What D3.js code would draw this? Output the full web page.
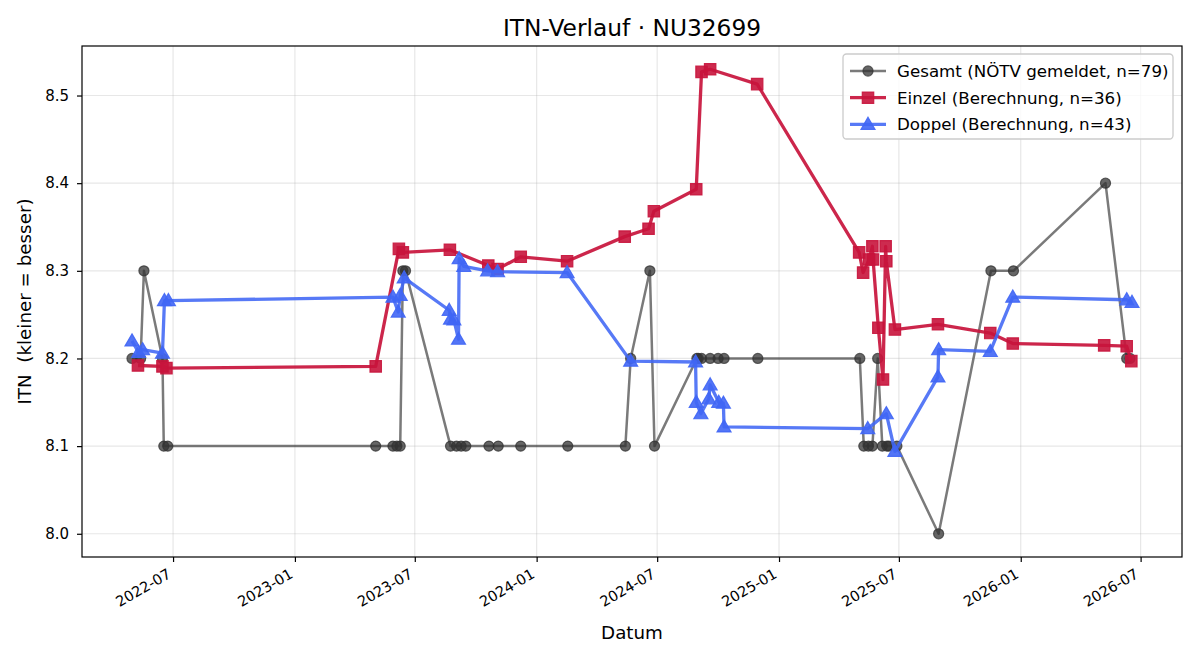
<!DOCTYPE html>
<html>
<head>
<meta charset="utf-8">
<script src="https://cdn.jsdelivr.net/npm/d3@7/dist/d3.min.js"></script>
<style>
  html, body { margin: 0; padding: 0; background: #fff; }
  svg { display: block; font-family: "DejaVu Sans", sans-serif; }
</style>
</head>
<body>
<svg id="chart" width="1200" height="660"></svg>
<script>
// ---------------- DATA ----------------
const title = "ITN-Verlauf · NU32699";
const xLabel = "Datum";
const yLabel = "ITN  (kleiner = besser)";

const gesamtDates = [
  "2022-04-30","2022-05-13","2022-05-18","2022-06-15","2022-06-17","2022-06-23",
  "2023-05-03","2023-05-29","2023-06-04","2023-06-09","2023-06-13","2023-06-17",
  "2023-08-24","2023-09-02","2023-09-09","2023-09-16","2023-10-21","2023-11-04",
  "2023-12-08","2024-02-17","2024-05-14","2024-05-22","2024-06-20","2024-06-27",
  "2024-08-30","2024-09-01","2024-09-06","2024-09-19","2024-10-01","2024-10-10",
  "2024-11-30","2025-05-03","2025-05-09","2025-05-16","2025-05-22","2025-05-30",
  "2025-06-06","2025-06-13","2025-06-16","2025-06-28","2025-08-30","2025-11-17",
  "2025-12-21","2026-05-09","2026-06-10","2026-06-15"
];
const gesamtValues = [
  8.2, 8.2, 8.3, 8.2, 8.1, 8.1,
  8.1, 8.1, 8.1, 8.1, 8.3, 8.3,
  8.1, 8.1, 8.1, 8.1, 8.1, 8.1,
  8.1, 8.1, 8.1, 8.2, 8.3, 8.1,
  8.2, 8.2, 8.2, 8.2, 8.2, 8.2,
  8.2, 8.2, 8.1, 8.1, 8.1, 8.2,
  8.1, 8.1, 8.1, 8.1, 8.0, 8.3,
  8.3, 8.4, 8.2, 8.2
];

const einzelDates = [
  "2022-05-09","2022-06-15","2022-06-21","2023-05-03","2023-06-07","2023-06-13",
  "2023-08-23","2023-10-20","2023-11-03","2023-12-08","2024-02-16","2024-05-13",
  "2024-06-18","2024-06-26","2024-08-29","2024-09-06","2024-09-19","2024-11-29",
  "2025-05-02","2025-05-08","2025-05-17","2025-05-22","2025-05-23","2025-05-31",
  "2025-06-07","2025-06-11","2025-06-12","2025-06-25","2025-08-29","2025-11-16",
  "2025-12-20","2026-05-07","2026-06-10","2026-06-17"
];
const einzelValues = [
  8.192, 8.191, 8.189, 8.191, 8.325, 8.321,
  8.324, 8.306, 8.302, 8.316, 8.311, 8.339,
  8.348, 8.368, 8.393, 8.527, 8.530, 8.513,
  8.321, 8.298, 8.313, 8.328, 8.313, 8.235,
  8.176, 8.328, 8.311, 8.233, 8.239, 8.229,
  8.217, 8.215, 8.214, 8.197
];

const doppelDates = [
  "2022-04-30","2022-05-10","2022-05-16","2022-06-15","2022-06-18","2022-06-24",
  "2023-05-29","2023-06-06","2023-06-09","2023-06-15","2023-08-22","2023-08-24",
  "2023-08-29","2023-09-05","2023-09-06","2023-09-13","2023-10-19","2023-11-03",
  "2024-02-16","2024-05-22","2024-08-28","2024-08-29","2024-09-05","2024-09-17",
  "2024-09-19","2024-10-02","2024-10-09","2024-10-10","2025-05-15","2025-06-12",
  "2025-06-25","2025-08-29","2025-08-30","2025-11-16","2025-12-20","2026-06-10",
  "2026-06-18"
];
const doppelValues = [
  8.220, 8.207, 8.210, 8.206, 8.266, 8.266,
  8.270, 8.253, 8.272, 8.292, 8.255, 8.245,
  8.244, 8.222, 8.314, 8.305, 8.300, 8.299,
  8.298, 8.197, 8.196, 8.150, 8.137, 8.154,
  8.170, 8.150, 8.149, 8.122, 8.120, 8.137,
  8.094, 8.179, 8.210, 8.208, 8.270, 8.267,
  8.264
];

const seriesNames = [
  "Gesamt (NÖTV gemeldet, n=79)",
  "Einzel (Berechnung, n=36)",
  "Doppel (Berechnung, n=43)"
];
const yTickValues = [8.0, 8.1, 8.2, 8.3, 8.4, 8.5];

// ---------------- LAYOUT ----------------
const W = 1200, H = 660;
const M = { left: 82, top: 46, right: 1182, bottom: 557 };

const parse = d3.utcParse("%Y-%m-%d");
const mk = (ds, vs) => ds.map((d, i) => ({ date: parse(d), value: vs[i] }));
const gesamt = mk(gesamtDates, gesamtValues);
const einzel = mk(einzelDates, einzelValues);
const doppel = mk(doppelDates, doppelValues);
const all = gesamt.concat(einzel, doppel);

// matplotlib-like 5% margins
const xExt = d3.extent(all, d => +d.date);
const xPad = (xExt[1] - xExt[0]) * 0.05;
const yExt = d3.extent(all, d => d.value);
const yPad = (yExt[1] - yExt[0]) * 0.05;

const x = d3.scaleUtc()
  .domain([new Date(xExt[0] - xPad), new Date(xExt[1] + xPad)])
  .range([M.left, M.right]);
const y = d3.scaleLinear()
  .domain([yExt[0] - yPad, yExt[1] + yPad])
  .range([M.bottom, M.top]);

const svg = d3.select("#chart");
svg.append("rect").attr("width", W).attr("height", H).attr("fill", "#fff");

const xTicks = x.ticks(d3.utcMonth.every(6));

// grid
const grid = svg.append("g").attr("stroke", "#b0b0b0").attr("stroke-opacity", 0.3).attr("stroke-width", 1.2);
grid.selectAll("line.gx").data(xTicks).join("line")
  .attr("x1", d => x(d)).attr("x2", d => x(d))
  .attr("y1", M.top).attr("y2", M.bottom);
grid.selectAll("line.gy").data(yTickValues).join("line")
  .attr("x1", M.left).attr("x2", M.right)
  .attr("y1", d => y(d)).attr("y2", d => y(d));

// axes
const xAxis = d3.axisBottom(x).tickValues(xTicks).tickFormat(d3.utcFormat("%Y-%m"))
  .tickSizeInner(5).tickSizeOuter(0).tickPadding(6);
const gx = svg.append("g").attr("transform", `translate(0,${M.bottom})`).call(xAxis);
gx.select(".domain").remove();
gx.selectAll(".tick line").attr("stroke", "#000").attr("stroke-width", 1.2);
gx.selectAll(".tick text")
  .attr("font-family", "DejaVu Sans").attr("font-size", 14.5).attr("fill", "#000")
  .attr("text-anchor", "end")
  .attr("dy", null).attr("y", null)
  .attr("transform", "translate(-1.5,20) rotate(-30)");

const yAxis = d3.axisLeft(y).tickValues(yTickValues).tickFormat(d3.format(".1f"))
  .tickSizeInner(5).tickSizeOuter(0).tickPadding(8);
const gy = svg.append("g").attr("transform", `translate(${M.left},0)`).call(yAxis);
gy.select(".domain").remove();
gy.selectAll(".tick line").attr("stroke", "#000").attr("stroke-width", 1.2);
gy.selectAll(".tick text")
  .attr("font-family", "DejaVu Sans").attr("font-size", 15).attr("fill", "#000");

// series styles
const styles = [
  { data: gesamt, color: "#333333", lineOpacity: 0.65, width: 2.5, marker: "circle", size: 80, markOpacity: 0.75 },
  { data: einzel, color: "#c8143c", lineOpacity: 0.92, width: 3.3, marker: "square", size: 130, markOpacity: 0.9 },
  { data: doppel, color: "#4066f5", lineOpacity: 0.88, width: 3.3, marker: "triangle", size: 85, markOpacity: 0.9 }
];
const symType = { circle: d3.symbolCircle, square: d3.symbolSquare, triangle: d3.symbolTriangle };

const plotG = svg.append("g");
const line = d3.line().x(d => x(d.date)).y(d => y(d.value));
styles.forEach(s => {
  const g = plotG.append("g");
  g.append("path").datum(s.data)
    .attr("d", line).attr("fill", "none")
    .attr("stroke", s.color).attr("stroke-width", s.width)
    .attr("stroke-opacity", s.lineOpacity).attr("stroke-linejoin", "round");
  const sym = d3.symbol().type(symType[s.marker]).size(s.size);
  g.selectAll("path.m").data(s.data).join("path")
    .attr("class", "m")
    .attr("d", sym)
    .attr("transform", d => `translate(${x(d.date)},${y(d.value) + (s.marker === "triangle" ? 1 : 0)})`)
    .attr("fill", s.color).attr("fill-opacity", s.markOpacity)
    .attr("stroke", s.color).attr("stroke-opacity", s.markOpacity).attr("stroke-width", 1.2);
});

// spines
svg.append("rect")
  .attr("x", M.left).attr("y", M.top)
  .attr("width", M.right - M.left).attr("height", M.bottom - M.top)
  .attr("fill", "none").attr("stroke", "#000").attr("stroke-width", 1.2);

// title & labels
svg.append("text").attr("x", (M.left + M.right) / 2).attr("y", 36)
  .attr("text-anchor", "middle").attr("font-size", 23.3).attr("fill", "#000").text(title);
svg.append("text").attr("x", (M.left + M.right) / 2).attr("y", 639)
  .attr("text-anchor", "middle").attr("font-size", 18.3).attr("fill", "#000").text(xLabel);
svg.append("text").attr("transform", `translate(31,${(M.top + M.bottom) / 2}) rotate(-90)`)
  .attr("text-anchor", "middle").attr("font-size", 18.3).attr("fill", "#000")
  .attr("xml:space", "preserve").style("white-space", "pre").text(yLabel);

// legend
const lg = svg.append("g");
lg.append("rect").attr("x", 843).attr("y", 54).attr("width", 330).attr("height", 85)
  .attr("rx", 3.5).attr("fill", "#fff").attr("fill-opacity", 0.8)
  .attr("stroke", "#cccccc").attr("stroke-width", 1.33);
styles.forEach((s, i) => {
  const cy = 71 + i * 26.7;
  lg.append("line").attr("x1", 850).attr("x2", 886).attr("y1", cy).attr("y2", cy)
    .attr("stroke", s.color).attr("stroke-width", s.width).attr("stroke-opacity", s.lineOpacity);
  lg.append("path").attr("d", d3.symbol().type(symType[s.marker]).size(s.size)())
    .attr("transform", `translate(868,${cy + (s.marker === "triangle" ? 1 : 0)})`)
    .attr("fill", s.color).attr("fill-opacity", s.markOpacity)
    .attr("stroke", s.color).attr("stroke-opacity", s.markOpacity).attr("stroke-width", 1.2);
  lg.append("text").attr("x", 897).attr("y", cy + 6)
    .attr("font-size", 16.7).attr("fill", "#000").text(seriesNames[i]);
});
</script>
</body>
</html>
